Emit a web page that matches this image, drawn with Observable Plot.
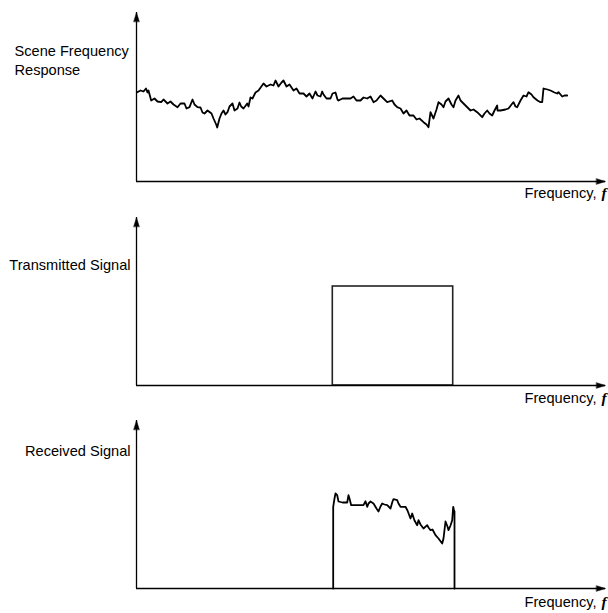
<!DOCTYPE html>
<html><head><meta charset="utf-8">
<script src="https://cdn.jsdelivr.net/npm/d3@7"></script>
<script src="https://cdn.jsdelivr.net/npm/@observablehq/plot@0.6"></script>
<style>
html,body{margin:0;padding:0;background:#fff;}
#chart{position:relative;width:608px;height:613px;}
#chart svg{position:absolute;left:0;overflow:visible;}
</style></head><body><div id="chart"></div>
<script>
// Frequency axis units (0 .. 469), response units (0 .. ~169)
const xMax = 469;
const panelLabels = ["Scene Frequency\nResponse", "Transmitted Signal", "Received Signal"];
const axisLabel = "Frequency,";
const axisSymbol = "f";

const sceneFreq = [0.7,4,7,9.5,11,12,14.7,18,21,24.7,27,31,34,37,41,44,48,50,53,56,58,61,64,66,68,71,75,77,79.7,80.7,83,85,87,89,91,93,96,98,101,103,104.7,107,110.7,112,114,116,119,122,127,130,134,137,139,142,145,147,150,153,157,160,163,167,170,173,176,179,181,184,185.7,187,190,194,196,199,201,202,206,214,217,220,224,227,230.7,234,237,240,244,247,250.7,255.7,258,260.7,264,267,270,273,277,280,283,287,290,292,294,297,300,302,305,307,309,312,315,317,319,322,324,327,331,334,337,340.7,345.7,348,350.7,353,355.7,358,360.7,361,364,369,372,375,377,379,380.7,384,387,390,392,395,397,401,404,405.7,407,411,414,418,420.7,422,425.7,428,430.7];
const sceneResp = [89.3,91,90,93,89,91,81,83,80,79.3,82,78,80,77,74.3,78,78,73,74.3,82,77,74.3,74,69,68,71,68,63,57,54,63,68,71,67,69.3,75,78,71,73,79,75,73,78,75,84,83,89,91,98,95,97,96,101,95,99,101,95,97,91,93,88,88,85,88,83,90,86,85,90,87,83,83,88,89,82,81,83,83,85,81,81,84,83,85,79.3,81,86,83,79.3,81,77,74.3,73,68,71,66,66,62,63,59.3,57,54.3,69.3,63,72,79.3,77,74.3,80,83,77,74.3,81,86,81,78,74,71,72,69.3,64.3,68,71,68,66,71,76,71,71,72,73,77,79.3,75,74.3,81,86,85,89.3,87,84.3,81,79.3,79.3,93,92,91,89,88,89.3,85,86,86];

const txStart = 196.3, txEnd = 316.7, txLevel = 99;

const rxFreq = [196.7,196.7,198,199,200.7,202,206,210.7,212,213,214.7,220,227,229,230.7,232,234,237,240,242,244,245.7,248,250.7,254,256,257,260.7,262,264,269,271,274,275.7,278,280.7,282,284,287,290.7,292,294,296,299,302,305.7,307,309,311,312,314,315.7,316.7,317.5,318,318];
const rxResp = [0,81.7,90,95,93.3,87,86,86,93.3,90,83.3,83.3,83.3,87.3,81.7,85,87,85,80,77,82,85,84,83.3,80,87,89.3,88.3,85,81.7,81.7,78,70,75,68,63.3,68.3,64,60,63.3,61,58.3,59,53.3,50,45,50,67,62,58.3,63,68.3,81.7,78,77,0];

const font = "'Liberation Sans', Arial, Helvetica, sans-serif";
const spike = {draw(c, l, r){ c.moveTo(-r,0); c.lineTo(0,-l); c.lineTo(r,0); c.closePath(); }};

function panel({top, height, marginTop, marginBottom, yMax, marks, label, labelOpts, freqDy}) {
  const svg = Plot.plot({
    width: 608, height, marginLeft: 136, marginRight: 3, marginTop, marginBottom,
    style: {fontFamily: font, fontSize: "14.6px", background: "transparent", overflow: "visible", color: "#000"},
    x: {domain: [0, xMax], axis: null},
    y: {domain: [0, yMax], axis: null},
    marks: [
      ...marks,
      Plot.ruleX([0], {y1: 0, y2: yMax, stroke: "#000", strokeWidth: 1.3}),
      Plot.ruleY([0], {x1: 0, x2: xMax, stroke: "#000", strokeWidth: 1.3}),
      Plot.vector([{x: 0, y: yMax}], {x: "x", y: "y", length: 9, r: 2.8, rotate: 0, anchor: "end", shape: spike, fill: "#000", stroke: "#000", strokeWidth: 0.5}),
      Plot.vector([{x: xMax, y: 0}], {x: "x", y: "y", length: 9, r: 2.8, rotate: 90, anchor: "end", shape: spike, fill: "#000", stroke: "#000", strokeWidth: 0.5}),
      Plot.text([label], {frameAnchor: "top-left", text: d => d, fill: "#000", fontSize: 14.6, lineAnchor: "top", lineHeight: 1.3, ...labelOpts}),
      Plot.text([axisLabel], {x: xMax, y: 0, text: d => d, textAnchor: "end", lineAnchor: "bottom", dx: -9, dy: freqDy, fill: "#000", fontSize: 14.6}),
      Plot.text([axisSymbol], {x: xMax, y: 0, text: d => d, textAnchor: "start", lineAnchor: "bottom", dx: -4, dy: freqDy, fill: "#000", fontSize: 15.5, fontStyle: "italic", fontWeight: "bold", fontFamily: "'Liberation Serif', 'Times New Roman', serif"})
    ]
  });
  svg.style.top = top + "px";
  return svg;
}

const chart = document.getElementById("chart");
chart.append(panel({
  top: 0, height: 203, marginTop: 12, marginBottom: 22, yMax: 169,
  label: panelLabels[0], labelOpts: {textAnchor: "start", dx: -122, dy: 30}, freqDy: 16,
  marks: [Plot.line(sceneFreq.map((f, i) => ({f, r: sceneResp[i]})), {x: "f", y: "r", stroke: "#000", strokeWidth: 1.8, strokeLinejoin: "round"})]
}));
chart.append(panel({
  top: 203, height: 203, marginTop: 14, marginBottom: 21, yMax: 168,
  label: panelLabels[1], labelOpts: {textAnchor: "end", dx: -6, dy: 39}, freqDy: 17,
  marks: [Plot.rect([{a: txStart, b: txEnd, h: txLevel}], {x1: "a", x2: "b", y1: 0, y2: "h", fill: "none", stroke: "#222", strokeWidth: 1.6})]
}));
chart.append(panel({
  top: 406, height: 207, marginTop: 14, marginBottom: 25, yMax: 168,
  label: panelLabels[2], labelOpts: {textAnchor: "end", dx: -6, dy: 22}, freqDy: 18,
  marks: [Plot.line(rxFreq.map((f, i) => ({f, r: rxResp[i]})), {x: "f", y: "r", stroke: "#000", strokeWidth: 1.8, strokeLinejoin: "round"})]
}));
</script></body></html>
